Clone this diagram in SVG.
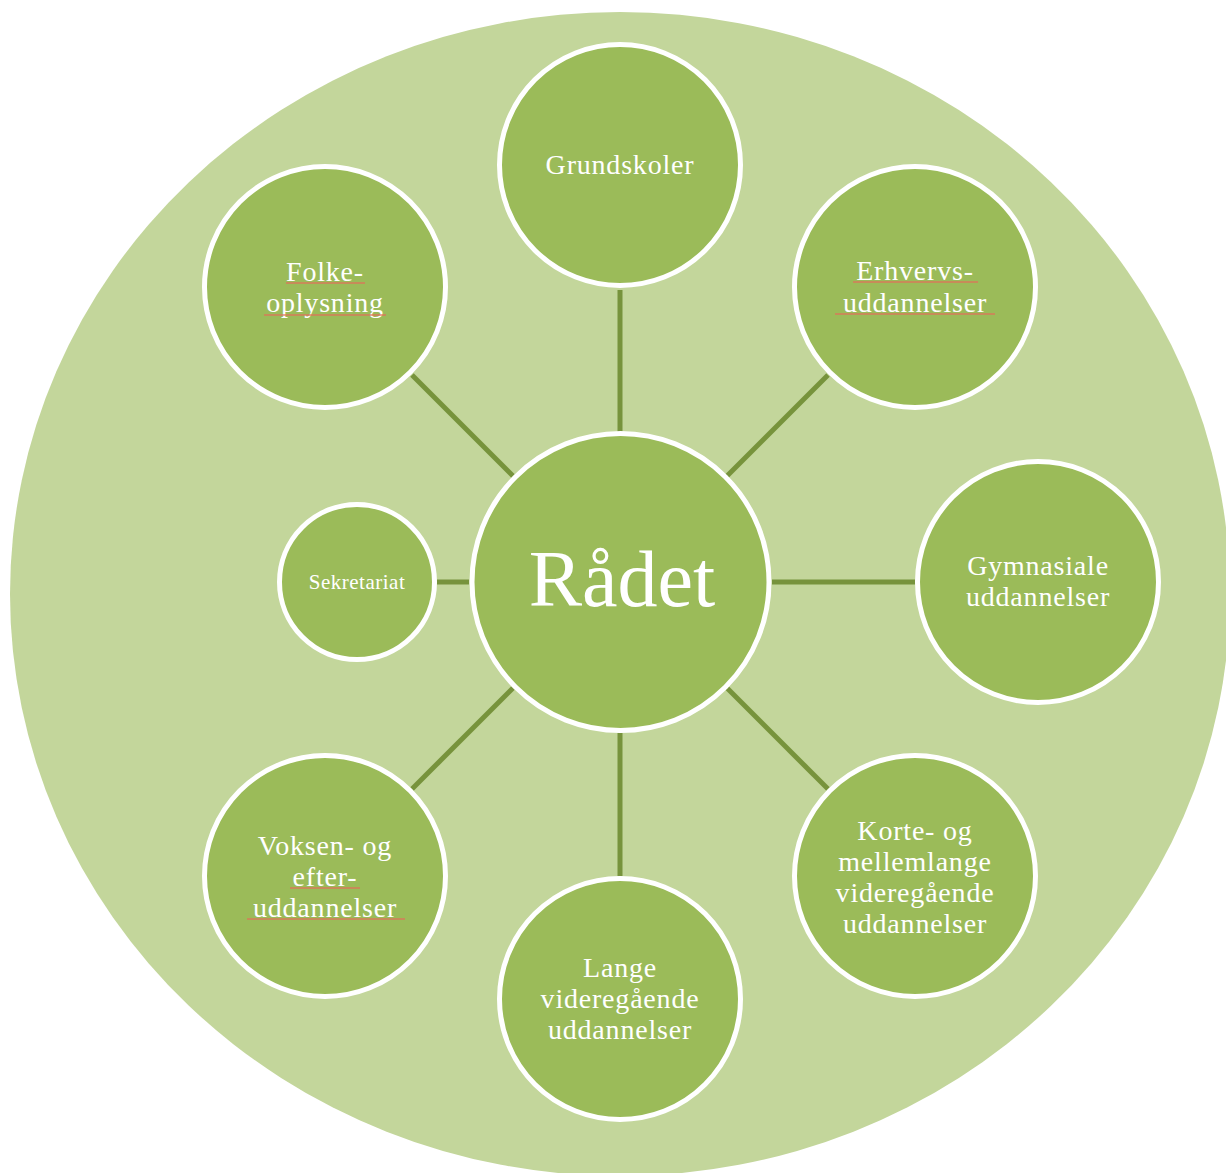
<svg xmlns="http://www.w3.org/2000/svg" width="1226" height="1173" viewBox="0 0 1226 1173">
<style>
.node{fill:#9bbb59;stroke:#ffffff;stroke-width:5}
.t{font-family:"Liberation Serif","Times New Roman",serif;font-size:28px;letter-spacing:0.8px;fill:#ffffff;text-anchor:middle}
.big{font-family:"Liberation Serif","Times New Roman",serif;font-size:80px;fill:#ffffff;text-anchor:middle}
.conn{stroke:#77933c;stroke-width:5;fill:none}
.sq{stroke:#e0705a;stroke-width:1.3;fill:none;opacity:0.85}
</style>
<rect width="1226" height="1173" fill="#ffffff"/>
<ellipse cx="620" cy="594" rx="610" ry="582" fill="#c3d69b"/>
<g id="connectors">
<line class="conn" x1="620" y1="290" x2="620" y2="432"/>
<line class="conn" x1="620" y1="733" x2="620" y2="876"/>
<line class="conn" x1="772" y1="582" x2="915" y2="582"/>
<line class="conn" x1="437" y1="582" x2="469" y2="582"/>
<line class="conn" x1="727" y1="476" x2="828" y2="375"/>
<line class="conn" x1="513" y1="476" x2="412" y2="375"/>
<line class="conn" x1="727" y1="688" x2="828" y2="789"/>
<line class="conn" x1="513" y1="688" x2="412" y2="789"/>
</g>
<g id="radet">
<circle class="node" cx="620.5" cy="582" r="148.5"/>
<text class="big" x="622" y="606">Rådet</text>
</g>
<g id="grundskoler">
<circle class="node" cx="620" cy="165" r="120.5"/>
<text class="t" x="620" y="174">Grundskoler</text>
</g>
<g id="folkeoplysning">
<circle class="node" cx="325" cy="287" r="120.5"/>
<text class="t" x="325" y="281">Folke-</text>
<text class="t" x="325" y="312">oplysning</text>
<line class="sq" x1="286" y1="283" x2="365" y2="283"/>
<line class="sq" x1="264" y1="315" x2="386" y2="315"/>
</g>
<g id="erhvervs">
<circle class="node" cx="915" cy="287" r="120.5"/>
<text class="t" x="915" y="280">Erhvervs-</text>
<text class="t" x="915" y="312">uddannelser</text>
<line class="sq" x1="853" y1="282" x2="978" y2="282"/>
<line class="sq" x1="835" y1="314" x2="995" y2="314"/>
</g>
<g id="gymnasiale">
<circle class="node" cx="1038" cy="582" r="120.5"/>
<text class="t" x="1038" y="575">Gymnasiale</text>
<text class="t" x="1038" y="606">uddannelser</text>
</g>
<g id="korte">
<circle class="node" cx="915" cy="876" r="120.5"/>
<text class="t" x="915" y="840">Korte- og</text>
<text class="t" x="915" y="871">mellemlange</text>
<text class="t" x="915" y="902">videregående</text>
<text class="t" x="915" y="933">uddannelser</text>
</g>
<g id="lange">
<circle class="node" cx="620" cy="999" r="120.5"/>
<text class="t" x="620" y="977">Lange</text>
<text class="t" x="620" y="1008">videregående</text>
<text class="t" x="620" y="1039">uddannelser</text>
</g>
<g id="voksen">
<circle class="node" cx="325" cy="876" r="120.5"/>
<text class="t" x="325" y="855">Voksen- og</text>
<text class="t" x="325" y="886">efter-</text>
<text class="t" x="325" y="917">uddannelser</text>
<line class="sq" x1="290" y1="888" x2="360" y2="888"/>
<line class="sq" x1="247" y1="919" x2="405" y2="919"/>
</g>
<g id="sekretariat">
<circle class="node" cx="357" cy="582" r="77.5"/>
<text class="t" x="357" y="589" style="font-size:21px;letter-spacing:0.5px">Sekretariat</text>
</g>
</svg>
